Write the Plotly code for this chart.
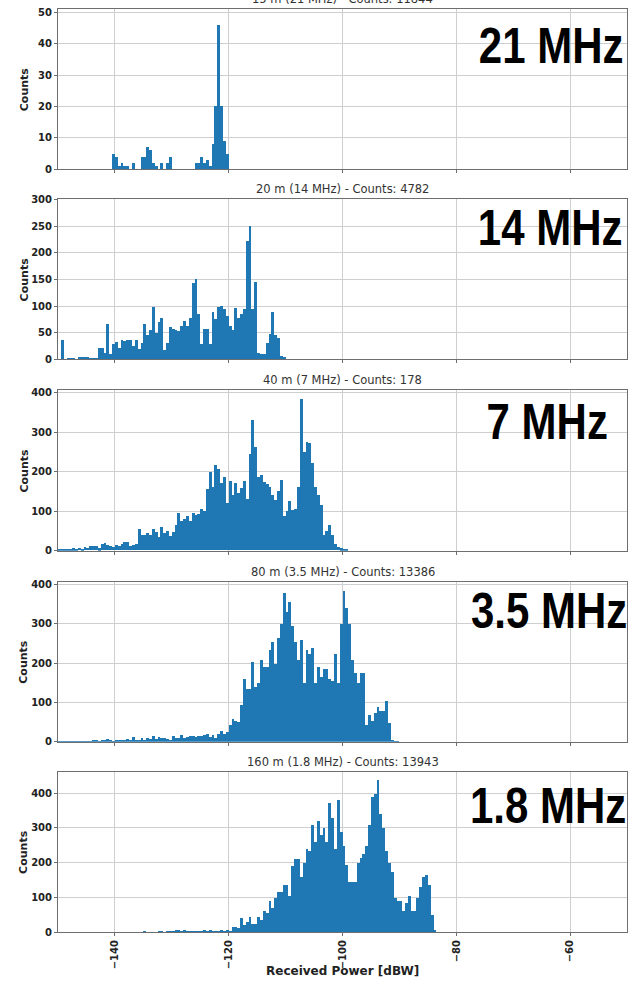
import plotly.graph_objects as go
from plotly.subplots import make_subplots

# Histogram bins: 0.5 dB wide, each series starts at its own lower edge (dBW)
BIN_WIDTH = 0.5

band_titles = [
    "15 m (21 MHz) - Counts: 11844",
    "20 m (14 MHz) - Counts: 4782",
    "40 m (7 MHz) - Counts: 178",
    "80 m (3.5 MHz) - Counts: 13386",
    "160 m (1.8 MHz) - Counts: 13943",
]
band_labels = ["21 MHz", "14 MHz", "7 MHz", "3.5 MHz", "1.8 MHz"]

start_21 = -141.0
counts_21 = [0, 5, 4, 1, 2, 1, 1, 0, 2, 0, 0, 4, 4, 7, 6, 2, 1, 0, 2, 0,
             2, 4, 0, 0, 0, 0, 0, 0, 0, 0, 2, 2, 4, 2, 3, 1, 8, 20, 46, 20,
             9, 5]

start_14 = -150.0
counts_14 = [0, 36, 0, 3, 3, 2, 0, 5, 4, 5, 4, 2, 2, 1, 22, 22, 12, 66, 10, 28,
             32, 22, 37, 35, 37, 37, 25, 37, 20, 30, 67, 45, 55, 98, 50, 70, 78, 18, 30, 60,
             57, 55, 54, 62, 72, 62, 78, 143, 150, 85, 28, 56, 56, 28, 88, 75, 98, 100, 95, 82,
             62, 55, 97, 78, 85, 95, 222, 250, 95, 145, 12, 10, 10, 30, 48, 88, 45, 40, 6, 5]

start_7 = -150.0
counts_7 = [4, 3, 4, 2, 3, 5, 3, 6, 4, 8,
            6, 10, 12, 12, 5, 16, 18, 14, 12, 8,
            14, 12, 15, 20, 22, 12, 13, 16, 55, 38,
            38, 45, 40, 55, 46, 33, 58, 45, 48, 36,
            46, 65, 95, 75, 80, 86, 75, 95, 90, 92,
            105, 100, 155, 198, 160, 215, 205, 170, 185, 120,
            175, 140, 170, 145, 158, 175, 130, 245, 330, 262,
            185, 190, 172, 168, 160, 140, 128, 150, 178, 88,
            100, 125, 102, 105, 160, 383, 250, 275, 272, 220,
            160, 140, 115, 40, 50, 65, 40, 15, 8, 5,
            3, 2]

start_35 = -150.0
counts_35 = [2, 3, 2, 3, 2, 1, 2, 3, 2, 3,
             4, 3, 5, 6, 4, 6, 5, 8, 6, 4,
             5, 6, 7, 5, 8, 6, 14, 5, 7, 10,
             6, 12, 8, 15, 9, 13, 10, 11, 8, 6,
             15, 10, 12, 18, 10, 14, 16, 17, 13, 15,
             16, 18, 20, 14, 18, 12, 22, 28, 20, 25,
             45, 60, 55, 52, 95, 160, 135, 135, 205, 140,
             150, 210, 190, 190, 235, 255, 200, 265, 300, 380,
             330, 355, 295, 255, 210, 260, 150, 235, 225, 240,
             150, 190, 165, 185, 185, 160, 155, 225, 150, 300,
             385, 340, 300, 210, 175, 150, 175, 175, 45, 70,
             55, 75, 90, 80, 80, 105, 50, 5, 3, 2]

start_18 = -150.0
counts_18 = [0] * 30 + [
             4, 0, 0, 0, 0, 1, 3, 0, 1, 2,
             1, 6, 7, 3, 8, 4, 3, 4, 5, 3,
             4, 8, 3, 6, 5, 4, 5, 7, 3, 8,
             4, 15, 15, 12, 40, 20, 30, 45, 25, 25,
             45, 35, 60, 55, 90, 70, 100, 115, 115, 135,
             135, 105, 190, 212, 210, 160, 200, 240, 235, 310,
             260, 320, 280, 300, 260, 372, 330, 240, 380, 290,
             250, 195, 145, 145, 145, 200, 215, 225, 250, 310,
             390, 400, 440, 340, 300, 235, 200, 175, 100, 90,
             90, 60, 85, 105, 60, 60, 100, 130, 160, 165,
             135, 50, 8]

band_starts = [start_21, start_14, start_7, start_35, start_18]
band_counts = [counts_21, counts_14, counts_7, counts_35, counts_18]

y_ranges = [[0, 51], [0, 301], [0, 406], [0, 407], [0, 462]]
y_ticks = [
    [0, 10, 20, 30, 40, 50],
    [0, 50, 100, 150, 200, 250, 300],
    [0, 100, 200, 300, 400],
    [0, 100, 200, 300, 400],
    [0, 100, 200, 300, 400],
]
x_ticks = [-140, -120, -100, -80, -60]
x_range = [-150, -50]

W, H = 632, 982
M_L, M_R, M_T, M_B = 58, 4, 5, 50
panel_tops = [5, 196, 388, 580, 771]
panel_h = 161
plot_h = H - M_T - M_B
plot_w = W - M_L - M_R


def py(px):
    return 1 - (px - M_T) / plot_h


def pxx(px):
    return (px - M_L) / plot_w


BAR_COLOR = "#1f77b4"
GRID = "#cfcfcf"
FRAME = "#6e6e6e"
TXT = "#222222"

fig = make_subplots(rows=5, cols=1, shared_xaxes=True)

for i, (start, counts) in enumerate(zip(band_starts, band_counts)):
    centers = [start + (k + 0.5) * BIN_WIDTH for k in range(len(counts))]
    fig.add_trace(
        go.Bar(x=centers, y=counts, width=BIN_WIDTH,
               marker=dict(color=BAR_COLOR, line=dict(width=0)),
               showlegend=False, hoverinfo="x+y"),
        row=i + 1, col=1,
    )

layout = {}
for i in range(5):
    top = panel_tops[i]
    dom = [py(top + panel_h), py(top)]
    ax = "" if i == 0 else str(i + 1)
    layout["yaxis" + ax] = dict(
        domain=dom, range=y_ranges[i], tickvals=y_ticks[i],
        showgrid=True, gridcolor=GRID, gridwidth=1,
        showline=True, linecolor=FRAME, linewidth=1, mirror=True,
        ticks="outside", ticklen=3, tickcolor=FRAME,
        tickfont=dict(family="DejaVu Sans", size=10, color=TXT, weight="bold"),
        zeroline=False, fixedrange=True,
    )
    layout["xaxis" + ax] = dict(
        range=x_range, tickvals=x_ticks,
        showgrid=True, gridcolor=GRID, gridwidth=1,
        showline=True, linecolor=FRAME, linewidth=1, mirror=True,
        ticks="outside", ticklen=3, tickcolor=FRAME,
        showticklabels=(i == 4), tickangle=-90,
        tickfont=dict(family="DejaVu Sans", size=10, color=TXT, weight="bold"),
        zeroline=False,
    )

fig.update_layout(**layout)

annotations = []
for i in range(5):
    top = panel_tops[i]
    annotations.append(dict(
        text=band_titles[i], x=0.5, xref="paper", y=py(top), yref="paper",
        xanchor="center", yanchor="bottom", yshift=1, showarrow=False,
        font=dict(family="DejaVu Sans", size=11.5, color="#333333"),
    ))
    annotations.append(dict(
        text="Counts", x=pxx(24), xref="paper", y=py(top + panel_h / 2), yref="paper",
        xanchor="center", yanchor="middle", textangle=-90, showarrow=False,
        font=dict(family="DejaVu Sans", size=11, color=TXT, weight="bold"),
    ))

label_centers = [(552, 42), (551, 225), (548, 420), (550, 610), (549, 805)]
for (cx, cy), lab in zip(label_centers, band_labels):
    annotations.append(dict(
        text="<b>%s</b>" % lab, x=pxx(cx), xref="paper", y=py(cy), yref="paper",
        xanchor="center", yanchor="middle", showarrow=False,
        font=dict(family="Liberation Sans, Arial", size=50, color="black"),
    ))

annotations.append(dict(
    text="Received Power [dBW]", x=0.5, xref="paper", y=py(971), yref="paper",
    xanchor="center", yanchor="middle", showarrow=False,
    font=dict(family="DejaVu Sans", size=12, color=TXT, weight="bold"),
))

fig.update_layout(
    width=W, height=H,
    margin=dict(l=M_L, r=M_R, t=M_T, b=M_B),
    paper_bgcolor="white", plot_bgcolor="white",
    bargap=0, annotations=annotations,
)

# Narrow the big band labels horizontally (condensed look) about their centres
squeeze_js = """
(function(){
  var gd = document.getElementById('{plot_id}');
  function squeeze(){
    gd.querySelectorAll('text.annotation-text').forEach(function(t){
      var s = t.textContent;
      if (/MHz$/.test(s) && s.indexOf('Counts') < 0) {
        t.removeAttribute('transform');
        var bb = t.getBBox();
        var cx = bb.x + bb.width / 2;
        t.setAttribute('transform',
          'translate(' + cx + ',0) scale(0.84,1) translate(' + (-cx) + ',0)');
      }
    });
  }
  squeeze();
  gd.on('plotly_afterplot', squeeze);
})();
"""

fig.write_html("out.html", post_script=squeeze_js)
